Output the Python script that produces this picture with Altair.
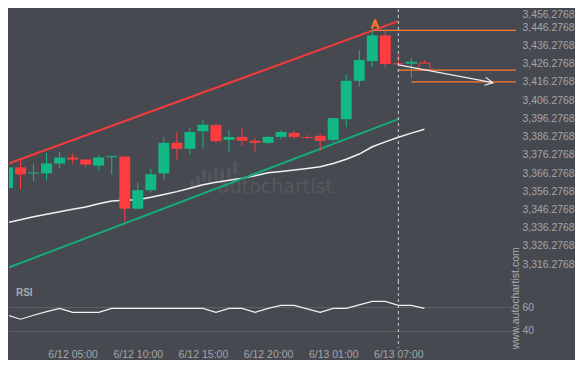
import altair as alt
import pandas as pd

# ---------------- data ----------------
opens  = [3358.0, 3369.4, 3366.0, 3366.1, 3371.5, 3374.8, 3373.7, 3370.4, 3375.0, 3375.3,
          3346.7, 3356.9, 3366.1, 3382.9, 3379.6, 3389.2, 3392.6, 3384.5, 3386.1, 3384.0,
          3382.9, 3386.1, 3388.3, 3386.1, 3386.7, 3384.5, 3395.8, 3416.9, 3427.7, 3441.8,
          3426.5, 3426.5, 3426.6]
highs  = [3369.6, 3373.1, 3371.5, 3377.5, 3378.0, 3376.9, 3374.2, 3375.9, 3375.8, 3375.5,
          3361.3, 3368.5, 3386.1, 3388.6, 3391.0, 3395.3, 3393.7, 3390.0, 3391.5, 3385.6,
          3386.7, 3389.9, 3389.4, 3387.2, 3387.7, 3396.6, 3420.2, 3433.7, 3444.5, 3444.0,
          3431.0, 3429.4, 3428.3]
lows   = [3357.8, 3357.5, 3361.8, 3362.3, 3368.8, 3371.5, 3369.4, 3367.7, 3365.6, 3339.5,
          3346.3, 3355.6, 3362.7, 3373.5, 3376.5, 3379.6, 3382.9, 3378.0, 3381.3, 3378.0,
          3382.3, 3385.0, 3385.0, 3385.0, 3378.6, 3383.3, 3391.5, 3413.7, 3424.5, 3424.0,
          3425.6, 3418.5, 3422.9]
closes = [3369.4, 3365.6, 3366.6, 3371.5, 3374.8, 3373.7, 3371.0, 3374.8, 3375.6, 3346.7,
          3356.9, 3365.6, 3382.9, 3379.6, 3388.8, 3392.8, 3383.8, 3386.1, 3384.0, 3382.9,
          3386.1, 3388.8, 3386.1, 3385.6, 3384.0, 3396.4, 3416.9, 3428.3, 3441.8, 3426.1,
          3425.9, 3427.1, 3422.9]
moving_avg = [3339.1, 3340.7, 3342.3, 3343.7, 3345.0, 3346.4, 3347.7, 3349.4, 3351.0, 3351.4,
              3351.7, 3353.0, 3354.5, 3356.1, 3358.0, 3359.9, 3361.3, 3362.3, 3363.4, 3364.8,
              3366.4, 3367.2, 3368.0, 3368.8, 3369.7, 3371.5, 3373.9, 3376.7, 3380.7, 3383.4,
              3385.9, 3388.2, 3390.3]
rsi_vals = [53.3, 49.8, 53.1, 56.1, 58.9, 55.6, 55.6, 55.6, 58.9, 58.9,
            58.9, 58.9, 58.9, 58.9, 58.9, 58.9, 55.6, 58.9, 58.9, 55.6,
            58.9, 61.4, 61.4, 58.5, 55.6, 58.9, 58.9, 61.8, 64.7, 64.7,
            61.4, 61.4, 58.9]
forecast_from = 31

price_ticks = [3316.2768, 3326.2768, 3336.2768, 3346.2768, 3356.2768, 3366.2768, 3376.2768,
               3386.2768, 3396.2768, 3406.2768, 3416.2768, 3426.2768, 3436.2768, 3446.2768,
               3456.2768]
rsi_ticks = [40, 60]
time_ticks = [5, 10, 15, 20, 25, 30]
time_labels = ["6/12 05:00", "6/12 10:00", "6/12 15:00", "6/12 20:00", "6/13 01:00", "6/13 07:00"]

channel_idx = [0, 30]
resistance = [3371.3, 3449.6]
support = [3314.2, 3395.85]

level_start = [28, 30, 31]
level_price = [3444.5, 3422.7, 3416.2768]

arrow_idx = [30, 37.26]
arrow_price = [3425.6, 3415.85]

marker_idx, marker_price = 28.2, 3447.7
now_idx = 30

logo_x = [14.16, 14.62, 15.08, 15.54, 16.0, 16.46, 17.0, 17.46]
logo_top = [3362.9, 3365.1, 3368.3, 3366.7, 3369.9, 3368.8, 3369.4, 3373.1]
logo_bot = [3357.5, 3359.1, 3361.3, 3361.3, 3362.3, 3362.3, 3363.4, 3365.6]

# ---------------- styling ----------------
BG = "#46494f"
GREEN = "#12b886"
RED = "#fd3c3f"
ORANGE = "#ff7a2f"
LABEL = "#a3a6ab"
W, HP, HR = 507, 272, 67
X_DOM = [0.115, 39.03]
P_DOM = [3307.07, 3456.2768]
R_DOM = [25.83, 81.67]

n = len(opens)
df = pd.DataFrame({"i": list(range(n)), "o": opens, "h": highs, "l": lows, "c": closes,
                   "ma": moving_avg, "rsi": rsi_vals})
df["dir"] = ["up" if c >= o else "down" for o, c in zip(opens, closes)]
df["kind"] = ["forecast" if i >= forecast_from else "actual" for i in range(n)]

xs = alt.Scale(domain=X_DOM, nice=False, zero=False)
ps = alt.Scale(domain=P_DOM, nice=False, zero=False)
rs = alt.Scale(domain=R_DOM, nice=False, zero=False)
dir_scale = alt.Scale(domain=["up", "down"], range=[GREEN, RED])

price_axis = alt.Axis(orient="right", values=price_ticks, format=",.4f", domain=False,
                      ticks=False, grid=False, labelPadding=6, labelColor=LABEL,
                      labelFontSize=10.4, labelFont="Liberation Sans", labelFlush=True)
rsi_axis = alt.Axis(orient="right", values=rsi_ticks, format="d", domain=False, ticks=False,
                    grid=True, gridColor="#5d6063", labelPadding=6, labelColor=LABEL,
                    labelFontSize=10.4, labelFont="Liberation Sans", labelFlush=False)
lab_expr = ("[" + ",".join("'%s'" % s for s in time_labels) + "][indexof(["
            + ",".join(str(v) for v in time_ticks) + "], datum.value)]")
time_axis = alt.Axis(values=time_ticks, labelExpr=lab_expr, domain=False, ticks=False,
                     grid=False, labelPadding=1, labelColor=LABEL, labelFontSize=10.5,
                     labelFont="Liberation Sans", labelFlush=False)


def XP(field):
    return alt.X(field, type="quantitative", scale=xs, axis=None, title=None)


def YP(field):
    return alt.Y(field, type="quantitative", scale=ps, axis=price_axis, title=None)


base = alt.Chart(df).transform_calculate(x0="datum.i - 0.42", x1="datum.i + 0.42")

wicks = base.mark_rule(strokeWidth=1, clip=True).encode(
    x=XP("i"), y=YP("l"), y2="h",
    color=alt.Color("dir:N", scale=dir_scale, legend=None))
bodies = base.transform_filter("datum.kind == 'actual'").mark_rect(clip=True).encode(
    x=XP("x0"), x2="x1", y=YP("o"), y2="c",
    color=alt.Color("dir:N", scale=dir_scale, legend=None))
fbodies = base.transform_filter("datum.kind == 'forecast'").mark_rect(
    fill=BG, strokeWidth=1).encode(
    x=XP("x0"), x2="x1", y=YP("o"), y2="c",
    stroke=alt.Stroke("dir:N", scale=dir_scale, legend=None))
ma_line = base.mark_line(color="#f2f2f2", strokeWidth=1.5, clip=True).encode(
    x=XP("i"), y=YP("ma"))

ch = pd.DataFrame({"i": channel_idx, "res": resistance, "sup": support})
res_line = alt.Chart(ch).mark_line(color="#f23b3b", strokeWidth=2, clip=True).encode(
    x=XP("i"), y=YP("res"))
sup_line = alt.Chart(ch).mark_line(color="#16a97b", strokeWidth=2, clip=True).encode(
    x=XP("i"), y=YP("sup"))

lv = pd.DataFrame({"s": level_start, "p": level_price, "e": [X_DOM[1]] * len(level_start)})
levels = alt.Chart(lv).mark_rule(color=ORANGE, strokeWidth=1.3).encode(
    x=XP("s"), x2="e", y=YP("p"))

ar = pd.DataFrame({"i": arrow_idx, "p": arrow_price})
arrow = alt.Chart(ar).mark_line(color="#eeeeee", strokeWidth=1.2).encode(x=XP("i"), y=YP("p"))
head = alt.Chart(ar.tail(1)).mark_point(
    shape="M-1,-0.5L0,0L-1,0.5", filled=False, color="#eeeeee", strokeWidth=1.2,
    size=256, angle=10, opacity=1).encode(x=XP("i"), y=YP("p"))

now_rule_p = alt.Chart(pd.DataFrame({"i": [now_idx]})).mark_rule(
    color="#cfcfcf", strokeDash=[3, 3], strokeWidth=1).encode(x=XP("i"))

marker = alt.Chart(pd.DataFrame({"i": [marker_idx], "p": [marker_price], "t": ["A"]})).mark_text(
    fontSize=11, fillOpacity=0, stroke=ORANGE, strokeWidth=0.9, baseline="middle",
    font="Liberation Sans").encode(x=XP("i"), y=YP("p"), text="t")

logo = alt.Chart(pd.DataFrame({"i": logo_x, "t": logo_top, "b": logo_bot})).transform_calculate(
    x0="datum.i - 0.15", x1="datum.i + 0.15").mark_rect(
    color="#52555b", cornerRadius=2).encode(x=XP("x0"), x2="x1", y=YP("b"), y2="t")
wm = alt.Chart(pd.DataFrame({"i": [20.57], "p": [3358.55], "t": ["autochartist"]})).mark_text(
    font="DejaVu Sans", fontSize=19, color="#55585e", baseline="middle", align="center").encode(
    x=XP("i"), y=YP("p"), text="t")

price_chart = alt.layer(
    logo, wm, ma_line, sup_line, res_line, wicks, bodies, fbodies, levels, arrow, head,
    now_rule_p, marker
).properties(width=W, height=HP)


def XR(field):
    return alt.X(field, type="quantitative", scale=xs, axis=time_axis, title=None)


def YR(field):
    return alt.Y(field, type="quantitative", scale=rs, axis=rsi_axis, title=None)


rsi_line = base.mark_line(color="#f2f2f2", strokeWidth=1.2, clip=True).encode(
    x=XR("i"), y=YR("rsi"))
now_rule_r = alt.Chart(pd.DataFrame({"i": [now_idx]})).mark_rule(
    color="#cfcfcf", strokeDash=[3, 3], strokeWidth=1).encode(x=XR("i"))
rsi_lab = alt.Chart(pd.DataFrame({"i": [0.65], "v": [71.7], "t": ["RSI"]})).mark_text(
    fontSize=10, fontWeight="bold", color="#a9acb1", align="left", baseline="middle",
    font="Liberation Sans").encode(x=XR("i"), y=YR("v"), text="t")
site = alt.Chart(pd.DataFrame({"i": [X_DOM[1]], "v": [67.25], "t": ["www.autochartist.com"]})).mark_text(
    fontSize=10.5, color="#a9acb1", angle=270, align="center", baseline="middle",
    font="Liberation Sans").encode(x=XR("i"), y=YR("v"), text="t")

rsi_chart = alt.layer(rsi_line, now_rule_r, rsi_lab, site).properties(width=W, height=HR)

chart = alt.vconcat(price_chart, rsi_chart, spacing=0, bounds="flush").properties(
    padding=0).configure(background=BG, font="Liberation Sans").configure_view(
    stroke="transparent")

chart.save("out.html", embed_options={"renderer": "svg", "actions": False})
